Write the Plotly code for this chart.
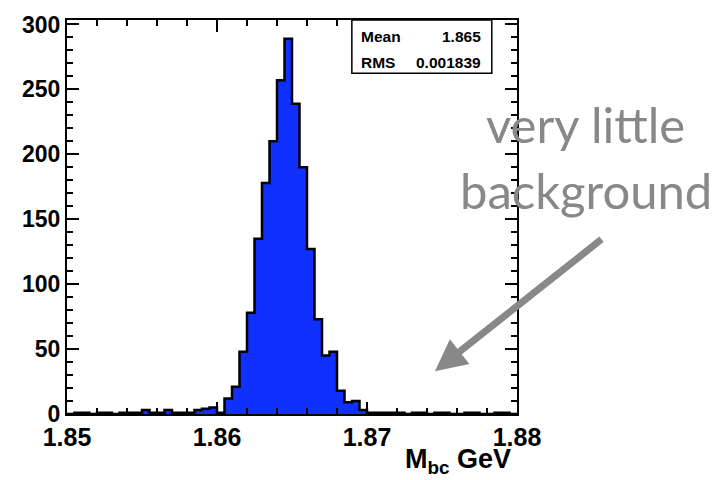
import plotly.graph_objects as go

# Histogram of M_bc: 60 bins between 1.85 and 1.88 GeV
x_low = 1.85
x_high = 1.88
bin_width = 0.0005
counts = [
    0, 1, 1, 0, 1, 1, 0, 1, 1, 1,
    3, 1, 1, 3, 1, 1, 1, 3, 4, 5,
    1, 12, 21, 48, 78, 135, 178, 210, 257, 289,
    239, 190, 127, 73, 45, 48, 18, 9, 10, 3,
    1, 1, 1, 1, 1, 0, 1, 1, 0, 1,
    1, 0, 0, 1, 1, 0, 0, 1, 1, 0,
]
x_ticks = [1.85, 1.86, 1.87, 1.88]
y_ticks = [0, 50, 100, 150, 200, 250, 300]
stat_names = ["Mean", "RMS"]
stat_values = ["1.865", "0.001839"]
note_lines = ["very little", "background"]

centers = [x_low + bin_width * (i + 0.5) for i in range(len(counts))]
edges = [x_low + bin_width * i for i in range(len(counts) + 1)]
y_max = 1.05 * max(counts)

# outline as a step curve around the filled bars
step_x = [edges[0]] + edges + [edges[-1]]
step_y = [0] + counts + [counts[-1], 0]

fill_blue = "#1030ff"
grey = "#888888"
axis_font = dict(family="Liberation Sans, Arial, sans-serif", size=23, color="black", weight="bold")

fig = go.Figure()
fig.add_trace(go.Bar(
    x=centers, y=counts, width=bin_width,
    marker=dict(color=fill_blue, line=dict(width=0)),
    hoverinfo="skip",
))
fig.add_trace(go.Scatter(
    x=step_x, y=step_y, mode="lines",
    line=dict(color="black", width=2.5, shape="hv"),
    hoverinfo="skip",
))

fig.update_layout(
    width=720, height=480,
    margin=dict(l=67, r=203, t=15, b=66),
    paper_bgcolor="white", plot_bgcolor="white",
    showlegend=False, bargap=0,
)
fig.update_xaxes(
    range=[x_low, x_high], tickvals=x_ticks, tickformat=".2f",
    ticks="inside", ticklen=12, tickwidth=2, tickcolor="black",
    minor=dict(dtick=0.002, tick0=x_low, ticks="inside", ticklen=6, tickwidth=2, tickcolor="black"),
    showline=True, linewidth=2, linecolor="black", mirror="allticks",
    showgrid=False, zeroline=False,
    tickfont=dict(family="Liberation Sans, Arial, sans-serif", size=25, color="black", weight="bold"),
)
fig.update_yaxes(
    range=[0, y_max], tickvals=y_ticks,
    ticks="inside", ticklen=12, tickwidth=2, tickcolor="black",
    minor=dict(dtick=10, tick0=0, ticks="inside", ticklen=6, tickwidth=2, tickcolor="black"),
    showline=True, linewidth=2, linecolor="black", mirror="allticks",
    showgrid=False, zeroline=False,
    tickfont=axis_font,
)

# statistics box
fig.add_shape(type="rect", xref="paper", yref="paper",
              x0=0.633, x1=0.944, y0=0.865, y1=1.0,
              line=dict(color="black", width=1.5), fillcolor="white", layer="above")
stat_font = dict(family="Liberation Sans, Arial, sans-serif", size=15.5, color="black", weight="bold")
for name, value, yy in zip(stat_names, stat_values, [0.957, 0.893]):
    fig.add_annotation(xref="paper", yref="paper", x=0.649, y=yy, text=name,
                       showarrow=False, xanchor="left", yanchor="middle", font=stat_font)
    fig.add_annotation(xref="paper", yref="paper", x=0.924, y=yy, text=value,
                       showarrow=False, xanchor="right", yanchor="middle", font=stat_font)

# axis title
fig.add_annotation(xref="paper", yref="paper", x=0.991, y=-0.12,
                   text="M<sub>bc</sub> GeV", showarrow=False,
                   xanchor="right", yanchor="middle",
                   font=dict(family="Liberation Sans, Arial, sans-serif", size=27, color="black", weight="bold"))

# callout text and arrow
note_font = dict(family="Lato, sans-serif", size=49, color=grey)
for line, yy in zip(note_lines, [0.737, 0.569]):
    fig.add_annotation(xref="paper", yref="paper", x=1.153, y=yy, text=line,
                       showarrow=False, xanchor="center", yanchor="middle", font=note_font)
fig.add_annotation(xref="x", yref="y", x=1.87453, y=33, text="",
                   showarrow=True, ax=168, ay=-133,
                   arrowcolor=grey, arrowwidth=7, arrowhead=2, arrowsize=0.9)

fig.write_html("out.html")
